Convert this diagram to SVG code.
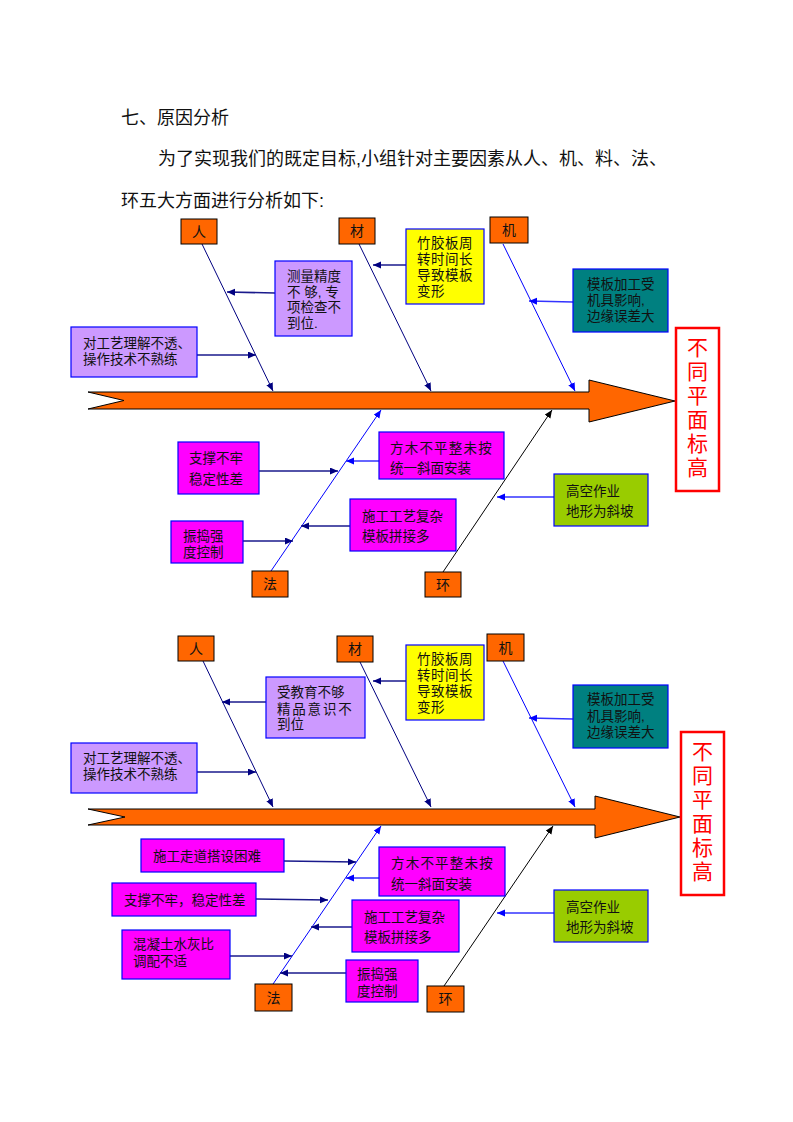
<svg xmlns="http://www.w3.org/2000/svg" width="793" height="1122" viewBox="0 0 793 1122">
<defs>
<marker id="an" markerUnits="userSpaceOnUse" markerWidth="9" markerHeight="8" refX="8" refY="3.5" orient="auto"><path d="M0,0 L8,3.5 L0,7 z" fill="#000080"/></marker>
<marker id="ab" markerUnits="userSpaceOnUse" markerWidth="9" markerHeight="8" refX="8" refY="3.5" orient="auto"><path d="M0,0 L8,3.5 L0,7 z" fill="#0000FF"/></marker>
<marker id="ak" markerUnits="userSpaceOnUse" markerWidth="9" markerHeight="8" refX="8" refY="3.5" orient="auto"><path d="M0,0 L8,3.5 L0,7 z" fill="#000000"/></marker>
</defs>
<style>
text{font-family:"Liberation Sans","Noto Sans CJK SC",sans-serif;fill:#111;}
.h{font-size:18px;}
.t{font-size:13.5px;}
.c{font-size:14px;text-anchor:middle;}
.e{font-size:21px;text-anchor:middle;fill:#FF0000;}
.cat{fill:#FF6600;stroke:#000;stroke-width:1;}
.lav{fill:#CC99FF;stroke:#0000FF;stroke-width:1.2;}
.yel{fill:#FFFF00;stroke:#0000FF;stroke-width:1.2;}
.tea{fill:#008080;stroke:#0000FF;stroke-width:1.2;}
.mag{fill:#FF00FF;stroke:#0000FF;stroke-width:1.2;}
.grn{fill:#99CC00;stroke:#0000FF;stroke-width:1.2;}
.eff{fill:#fff;stroke:#FF0000;stroke-width:2.5;}
.spine{fill:#FF6600;stroke:#000;stroke-width:1;}
.n{stroke:#000080;stroke-width:1;fill:none;marker-end:url(#an);}
.b{stroke:#0000FF;stroke-width:1;fill:none;marker-end:url(#ab);}
.k{stroke:#000;stroke-width:1;fill:none;marker-end:url(#ak);}
.nh{stroke:#1a1a8c;stroke-width:1.6;fill:none;marker-end:url(#an);}
.bh{stroke:#3333FF;stroke-width:1.6;fill:none;marker-end:url(#ab);}
</style>
<rect width="793" height="1122" fill="#fff"/>
<g id="heading">
<text class="h" x="121" y="124">七、原因分析</text>
<text class="h" x="158" y="165">为了实现我们的既定目标,小组针对主要因素从人、机、料、法、</text>
<text class="h" x="121" y="207">环五大方面进行分析如下:</text>
</g>

<!-- ===== Diagram 1 ===== -->
<g id="d1-spine"><polygon class="spine" points="88,392 589,392 589,380 675,401 589,422 589,409 88,409 124,400.5"/></g>
<g id="d1-connectors">
<line class="n" x1="202" y1="244" x2="273" y2="391"/>
<line class="n" x1="359" y1="244" x2="431" y2="391"/>
<line class="b" x1="503" y1="244" x2="575" y2="391"/>
<line class="b" x1="271" y1="571" x2="381" y2="410"/>
<line class="k" x1="443" y1="572" x2="552" y2="410"/>
<line class="nh" x1="275" y1="293" x2="227" y2="292"/>
<line class="nh" x1="197" y1="355" x2="256" y2="355"/>
<line class="nh" x1="406" y1="265" x2="373" y2="265"/>
<line class="bh" x1="573" y1="302" x2="529" y2="301"/>
<line class="nh" x1="259" y1="471" x2="338" y2="471"/>
<line class="bh" x1="379" y1="461" x2="346" y2="461"/>
<line class="nh" x1="350" y1="526" x2="301" y2="526"/>
<line class="nh" x1="243" y1="541" x2="293" y2="541"/>
<line class="bh" x1="554" y1="497" x2="497" y2="497"/>
</g>
<g id="d1-ren"><rect class="cat" x="181" y="219" width="36" height="25"/><text class="c" x="199" y="236.5">人</text></g>
<g id="d1-cai"><rect class="cat" x="339" y="218" width="36" height="26"/><text class="c" x="357" y="236">材</text></g>
<g id="d1-ji"><rect class="cat" x="490" y="217" width="38" height="26"/><text class="c" x="509" y="235">机</text></g>
<g id="d1-fa"><rect class="cat" x="252" y="571" width="36" height="26"/><text class="c" x="270" y="589">法</text></g>
<g id="d1-huan"><rect class="cat" x="425" y="572" width="36" height="25"/><text class="c" x="443" y="589.5">环</text></g>
<g id="d1-celiang"><rect class="lav" x="275" y="261" width="77" height="75"/>
<text class="t" x="287" y="281"><tspan x="287">测量精度</tspan><tspan x="287" dy="15.5">不 够, 专</tspan><tspan x="287" dy="15.5">项检查不</tspan><tspan x="287" dy="15.5">到位.</tspan></text></g>
<g id="d1-gongyi"><rect class="lav" x="71" y="327" width="126" height="50"/>
<text class="t" x="83" y="348"><tspan x="83">对工艺理解不透、</tspan><tspan x="83" dy="15.5">操作技术不熟练</tspan></text></g>
<g id="d1-zhujiao"><rect class="yel" x="406" y="229" width="78" height="75"/>
<text class="t" x="417" y="248" letter-spacing="0.5"><tspan x="417">竹胶板周</tspan><tspan x="417" dy="16">转时间长</tspan><tspan x="417" dy="16">导致模板</tspan><tspan x="417" dy="16">变形</tspan></text></g>
<g id="d1-moban"><rect class="tea" x="573" y="269" width="95" height="63"/>
<text class="t" x="587" y="289"><tspan x="587">模板加工受</tspan><tspan x="587" dy="15.5">机具影响,</tspan><tspan x="587" dy="16.5">边缘误差大</tspan></text></g>
<g id="d1-zhicheng"><rect class="mag" x="178" y="442" width="81" height="52"/>
<text class="t" x="189" y="463"><tspan x="189">支撑不牢</tspan><tspan x="189" dy="21">稳定性差</tspan></text></g>
<g id="d1-zhendao"><rect class="mag" x="171" y="521" width="72" height="42"/>
<text class="t" x="183" y="541"><tspan x="183">振捣强</tspan><tspan x="183" dy="16">度控制</tspan></text></g>
<g id="d1-fangmu"><rect class="mag" x="379" y="432" width="125" height="47"/>
<text class="t" x="390" y="453"><tspan x="390" letter-spacing="1.2">方木不平整未按</tspan><tspan x="390" dy="20">统一斜面安装</tspan></text></g>
<g id="d1-shigong"><rect class="mag" x="350" y="499" width="106" height="52"/>
<text class="t" x="362" y="521"><tspan x="362">施工工艺复杂</tspan><tspan x="362" dy="20">模板拼接多</tspan></text></g>
<g id="d1-gaokong"><rect class="grn" x="554" y="474" width="94" height="52"/>
<text class="t" x="566" y="496"><tspan x="566">高空作业</tspan><tspan x="566" dy="20">地形为斜坡</tspan></text></g>
<g id="d1-effect"><rect class="eff" x="676" y="328" width="43" height="163"/>
<text class="e" x="697.5" y="355"><tspan x="697.5">不</tspan><tspan x="697.5" dy="24">同</tspan><tspan x="697.5" dy="24">平</tspan><tspan x="697.5" dy="24">面</tspan><tspan x="697.5" dy="24">标</tspan><tspan x="697.5" dy="24">高</tspan></text></g>

<!-- ===== Diagram 2 ===== -->
<g id="d2-spine"><polygon class="spine" points="88,809 595,809 595,796 680,817 595,838 595,825 88,825 125,817"/></g>
<g id="d2-connectors">
<line class="n" x1="203" y1="661" x2="273" y2="807"/>
<line class="n" x1="360" y1="662" x2="431" y2="807"/>
<line class="b" x1="503" y1="661" x2="575" y2="807"/>
<line class="b" x1="271" y1="987" x2="381" y2="826"/>
<line class="k" x1="444" y1="986" x2="553" y2="826"/>
<line class="nh" x1="266" y1="702" x2="222" y2="702"/>
<line class="nh" x1="197" y1="772" x2="256" y2="772"/>
<line class="nh" x1="406" y1="681" x2="373" y2="681"/>
<line class="bh" x1="573" y1="719" x2="529" y2="718"/>
<line class="nh" x1="284" y1="861" x2="356" y2="862"/>
<line class="bh" x1="379" y1="878" x2="346" y2="878"/>
<line class="nh" x1="256" y1="899" x2="328" y2="900"/>
<line class="nh" x1="352" y1="927" x2="311" y2="927"/>
<line class="nh" x1="230" y1="956" x2="292" y2="956"/>
<line class="nh" x1="346" y1="973" x2="280" y2="973"/>
<line class="bh" x1="554" y1="913" x2="497" y2="913"/>
</g>
<g id="d2-ren"><rect class="cat" x="178" y="636" width="36" height="25"/><text class="c" x="196" y="653.5">人</text></g>
<g id="d2-cai"><rect class="cat" x="337" y="636" width="36" height="26"/><text class="c" x="355" y="654">材</text></g>
<g id="d2-ji"><rect class="cat" x="487" y="634" width="37" height="27"/><text class="c" x="505.5" y="652.5">机</text></g>
<g id="d2-fa"><rect class="cat" x="255" y="984" width="37" height="27"/><text class="c" x="273.5" y="1002.5">法</text></g>
<g id="d2-huan"><rect class="cat" x="427" y="986" width="37" height="26"/><text class="c" x="445.5" y="1004">环</text></g>
<g id="d2-jiaoyu"><rect class="lav" x="266" y="677" width="99" height="61"/>
<text class="t" x="277" y="697"><tspan x="277">受教育不够</tspan><tspan x="277" dy="16.5" letter-spacing="1.8">精品意识不</tspan><tspan x="277" dy="15.5">到位</tspan></text></g>
<g id="d2-gongyi"><rect class="lav" x="71" y="743" width="126" height="50"/>
<text class="t" x="83" y="763"><tspan x="83">对工艺理解不透、</tspan><tspan x="83" dy="16">操作技术不熟练</tspan></text></g>
<g id="d2-zhujiao"><rect class="yel" x="406" y="645" width="78" height="75"/>
<text class="t" x="417" y="664" letter-spacing="0.5"><tspan x="417">竹胶板周</tspan><tspan x="417" dy="16">转时间长</tspan><tspan x="417" dy="16">导致模板</tspan><tspan x="417" dy="16">变形</tspan></text></g>
<g id="d2-moban"><rect class="tea" x="573" y="685" width="95" height="63"/>
<text class="t" x="587" y="704"><tspan x="587">模板加工受</tspan><tspan x="587" dy="17">机具影响,</tspan><tspan x="587" dy="16">边缘误差大</tspan></text></g>
<g id="d2-zoudao"><rect class="mag" x="141" y="839" width="143" height="33"/>
<text class="t" x="153" y="861">施工走道搭设困难</text></g>
<g id="d2-zhicheng"><rect class="mag" x="112" y="883" width="144" height="33"/>
<text class="t" x="124" y="905">支撑不牢，稳定性差</text></g>
<g id="d2-hunningtu"><rect class="mag" x="122" y="930" width="108" height="49"/>
<text class="t" x="133" y="949"><tspan x="133">混凝土水灰比</tspan><tspan x="133" dy="17">调配不适</tspan></text></g>
<g id="d2-fangmu"><rect class="mag" x="379" y="847" width="126" height="49"/>
<text class="t" x="391" y="868"><tspan x="391" letter-spacing="1.2">方木不平整未按</tspan><tspan x="391" dy="21">统一斜面安装</tspan></text></g>
<g id="d2-shigong"><rect class="mag" x="352" y="900" width="107" height="52"/>
<text class="t" x="364" y="922"><tspan x="364">施工工艺复杂</tspan><tspan x="364" dy="20">模板拼接多</tspan></text></g>
<g id="d2-zhendao"><rect class="mag" x="346" y="960" width="72" height="42"/>
<text class="t" x="357" y="979"><tspan x="357">振捣强</tspan><tspan x="357" dy="17">度控制</tspan></text></g>
<g id="d2-gaokong"><rect class="grn" x="554" y="890" width="94" height="52"/>
<text class="t" x="566" y="912"><tspan x="566">高空作业</tspan><tspan x="566" dy="20">地形为斜坡</tspan></text></g>
<g id="d2-effect"><rect class="eff" x="681" y="732" width="43" height="163"/>
<text class="e" x="702.5" y="759"><tspan x="702.5">不</tspan><tspan x="702.5" dy="24">同</tspan><tspan x="702.5" dy="24">平</tspan><tspan x="702.5" dy="24">面</tspan><tspan x="702.5" dy="24">标</tspan><tspan x="702.5" dy="24">高</tspan></text></g>
</svg>
